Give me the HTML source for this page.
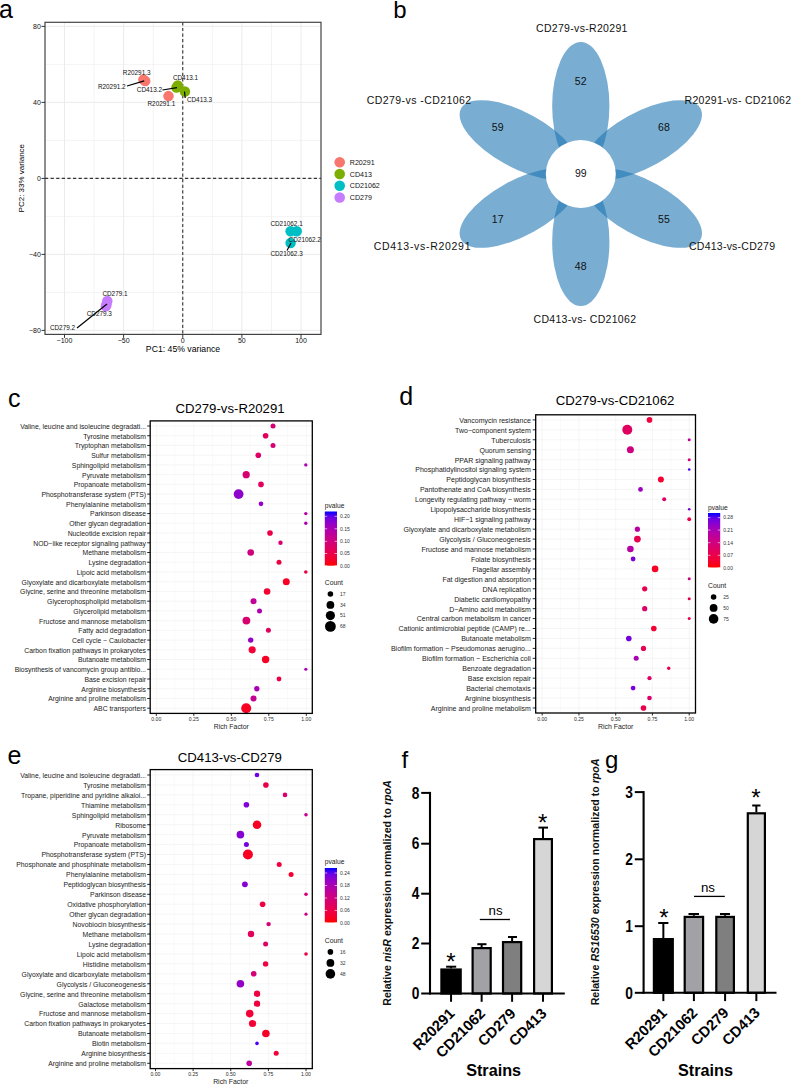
<!DOCTYPE html><html><head><meta charset="utf-8"><style>html,body{margin:0;padding:0;background:#fff;} svg{display:block;} text{font-family:"Liberation Sans", sans-serif;}</style></head><body>
<svg width="792" height="1084" viewBox="0 0 792 1084">
<rect width="792" height="1084" fill="#fff"/>
<text x="-1.00" y="18.20" font-size="25" text-anchor="start" font-weight="normal" fill="#000" >a</text>
<line x1="64.50" y1="22.3" x2="64.50" y2="334.4" stroke="#ebebeb" stroke-width="1.0"/>
<line x1="94.06" y1="22.3" x2="94.06" y2="334.4" stroke="#ebebeb" stroke-width="0.6"/>
<line x1="123.62" y1="22.3" x2="123.62" y2="334.4" stroke="#ebebeb" stroke-width="1.0"/>
<line x1="153.19" y1="22.3" x2="153.19" y2="334.4" stroke="#ebebeb" stroke-width="0.6"/>
<line x1="182.75" y1="22.3" x2="182.75" y2="334.4" stroke="#ebebeb" stroke-width="1.0"/>
<line x1="212.31" y1="22.3" x2="212.31" y2="334.4" stroke="#ebebeb" stroke-width="0.6"/>
<line x1="241.88" y1="22.3" x2="241.88" y2="334.4" stroke="#ebebeb" stroke-width="1.0"/>
<line x1="271.44" y1="22.3" x2="271.44" y2="334.4" stroke="#ebebeb" stroke-width="0.6"/>
<line x1="301.00" y1="22.3" x2="301.00" y2="334.4" stroke="#ebebeb" stroke-width="1.0"/>
<line x1="45.0" y1="330.40" x2="321.0" y2="330.40" stroke="#ebebeb" stroke-width="1.0"/>
<line x1="45.0" y1="292.40" x2="321.0" y2="292.40" stroke="#ebebeb" stroke-width="0.6"/>
<line x1="45.0" y1="254.40" x2="321.0" y2="254.40" stroke="#ebebeb" stroke-width="1.0"/>
<line x1="45.0" y1="216.40" x2="321.0" y2="216.40" stroke="#ebebeb" stroke-width="0.6"/>
<line x1="45.0" y1="178.40" x2="321.0" y2="178.40" stroke="#ebebeb" stroke-width="1.0"/>
<line x1="45.0" y1="140.40" x2="321.0" y2="140.40" stroke="#ebebeb" stroke-width="0.6"/>
<line x1="45.0" y1="102.40" x2="321.0" y2="102.40" stroke="#ebebeb" stroke-width="1.0"/>
<line x1="45.0" y1="64.40" x2="321.0" y2="64.40" stroke="#ebebeb" stroke-width="0.6"/>
<line x1="45.0" y1="26.40" x2="321.0" y2="26.40" stroke="#ebebeb" stroke-width="1.0"/>
<line x1="182.75" y1="22.3" x2="182.75" y2="334.4" stroke="#333" stroke-width="1.1" stroke-dasharray="3.2,2.4"/>
<line x1="45.0" y1="178.40" x2="321.0" y2="178.40" stroke="#333" stroke-width="1.1" stroke-dasharray="3.2,2.4"/>
<rect x="45.0" y="22.3" width="276.0" height="312.09999999999997" fill="none" stroke="#444" stroke-width="1.2"/>
<line x1="41.5" y1="26.40" x2="45.0" y2="26.40" stroke="#333" stroke-width="1"/>
<text x="40.80" y="29.10" font-size="7.0" text-anchor="end" font-weight="normal" fill="#111" >80</text>
<line x1="41.5" y1="102.40" x2="45.0" y2="102.40" stroke="#333" stroke-width="1"/>
<text x="40.80" y="105.10" font-size="7.0" text-anchor="end" font-weight="normal" fill="#111" >40</text>
<line x1="41.5" y1="178.40" x2="45.0" y2="178.40" stroke="#333" stroke-width="1"/>
<text x="40.80" y="181.10" font-size="7.0" text-anchor="end" font-weight="normal" fill="#111" >0</text>
<line x1="41.5" y1="254.40" x2="45.0" y2="254.40" stroke="#333" stroke-width="1"/>
<text x="40.80" y="257.10" font-size="7.0" text-anchor="end" font-weight="normal" fill="#111" >−40</text>
<line x1="41.5" y1="330.40" x2="45.0" y2="330.40" stroke="#333" stroke-width="1"/>
<text x="40.80" y="333.10" font-size="7.0" text-anchor="end" font-weight="normal" fill="#111" >−80</text>
<line x1="64.50" y1="334.4" x2="64.50" y2="337.9" stroke="#333" stroke-width="1"/>
<text x="64.50" y="342.80" font-size="7.0" text-anchor="middle" font-weight="normal" fill="#111" >−100</text>
<line x1="123.62" y1="334.4" x2="123.62" y2="337.9" stroke="#333" stroke-width="1"/>
<text x="123.62" y="342.80" font-size="7.0" text-anchor="middle" font-weight="normal" fill="#111" >−50</text>
<line x1="182.75" y1="334.4" x2="182.75" y2="337.9" stroke="#333" stroke-width="1"/>
<text x="182.75" y="342.80" font-size="7.0" text-anchor="middle" font-weight="normal" fill="#111" >0</text>
<line x1="241.88" y1="334.4" x2="241.88" y2="337.9" stroke="#333" stroke-width="1"/>
<text x="241.88" y="342.80" font-size="7.0" text-anchor="middle" font-weight="normal" fill="#111" >50</text>
<line x1="301.00" y1="334.4" x2="301.00" y2="337.9" stroke="#333" stroke-width="1"/>
<text x="301.00" y="342.80" font-size="7.0" text-anchor="middle" font-weight="normal" fill="#111" >100</text>
<text x="183.00" y="352.30" font-size="8.7" text-anchor="middle" font-weight="normal" fill="#000" textLength="74.3" lengthAdjust="spacingAndGlyphs">PC1: 45% variance</text>
<text x="0" y="0" font-size="8.0" text-anchor="middle" transform="translate(24.0,178.2) rotate(-90)">PC2: 33% variance</text>
<circle cx="143.4" cy="79.6" r="5.25" fill="#F8766D"/>
<circle cx="145.2" cy="81.0" r="5.25" fill="#F8766D"/>
<circle cx="168.5" cy="96.1" r="5.25" fill="#F8766D"/>
<circle cx="177.8" cy="85.5" r="5.25" fill="#7CAE00"/>
<circle cx="176.5" cy="87.5" r="5.25" fill="#7CAE00"/>
<circle cx="184.9" cy="91.5" r="5.25" fill="#7CAE00"/>
<circle cx="290.6" cy="231.3" r="5.25" fill="#00BFC4"/>
<circle cx="296.7" cy="231.3" r="5.25" fill="#00BFC4"/>
<circle cx="290.6" cy="243.0" r="5.25" fill="#00BFC4"/>
<circle cx="107.3" cy="301.0" r="5.25" fill="#C77CFF"/>
<circle cx="105.9" cy="306.2" r="5.25" fill="#C77CFF"/>
<circle cx="106.5" cy="304.5" r="5.25" fill="#C77CFF"/>
<line x1="127" y1="86" x2="144.2" y2="80.9" stroke="#000" stroke-width="1.2"/>
<line x1="162.5" y1="90" x2="177" y2="87.6" stroke="#000" stroke-width="1.2"/>
<line x1="184.5" y1="91.5" x2="185.2" y2="98" stroke="#000" stroke-width="1.2"/>
<line x1="77" y1="328" x2="107" y2="304" stroke="#000" stroke-width="1.2"/>
<line x1="287" y1="250.5" x2="291" y2="243" stroke="#000" stroke-width="1.2"/>
<text x="122.80" y="74.60" font-size="6.4" text-anchor="start" font-weight="normal" fill="#111" >R20291.3</text>
<text x="97.90" y="88.60" font-size="6.4" text-anchor="start" font-weight="normal" fill="#111" >R20291.2</text>
<text x="136.80" y="92.30" font-size="6.4" text-anchor="start" font-weight="normal" fill="#111" >CD413.2</text>
<text x="172.90" y="79.90" font-size="6.4" text-anchor="start" font-weight="normal" fill="#111" >CD413.1</text>
<text x="186.90" y="102.20" font-size="6.4" text-anchor="start" font-weight="normal" fill="#111" >CD413.3</text>
<text x="147.50" y="106.30" font-size="6.4" text-anchor="start" font-weight="normal" fill="#111" >R20291.1</text>
<text x="270.40" y="225.50" font-size="6.4" text-anchor="start" font-weight="normal" fill="#111" >CD21062.1</text>
<text x="288.60" y="241.70" font-size="6.4" text-anchor="start" font-weight="normal" fill="#111" >CD21062.2</text>
<text x="270.40" y="256.20" font-size="6.4" text-anchor="start" font-weight="normal" fill="#111" >CD21062.3</text>
<text x="102.40" y="296.00" font-size="6.4" text-anchor="start" font-weight="normal" fill="#111" >CD279.1</text>
<text x="86.70" y="316.00" font-size="6.4" text-anchor="start" font-weight="normal" fill="#111" >CD279.3</text>
<text x="49.90" y="330.30" font-size="6.4" text-anchor="start" font-weight="normal" fill="#111" >CD279.2</text>
<circle cx="339.7" cy="162.30" r="5.3" fill="#F8766D"/>
<text x="349.80" y="164.80" font-size="7.1" text-anchor="start" font-weight="normal" fill="#111" >R20291</text>
<circle cx="339.7" cy="174.05" r="5.3" fill="#7CAE00"/>
<text x="349.80" y="176.55" font-size="7.1" text-anchor="start" font-weight="normal" fill="#111" >CD413</text>
<circle cx="339.7" cy="185.80" r="5.3" fill="#00BFC4"/>
<text x="349.80" y="188.30" font-size="7.1" text-anchor="start" font-weight="normal" fill="#111" >CD21062</text>
<circle cx="339.7" cy="197.55" r="5.3" fill="#C77CFF"/>
<text x="349.80" y="200.05" font-size="7.1" text-anchor="start" font-weight="normal" fill="#111" >CD279</text>
<text x="393.30" y="17.80" font-size="24" text-anchor="start" font-weight="normal" fill="#000" >b</text>
<g transform="translate(580.8,174.0) scale(1.045,1)">
<ellipse cx="0" cy="-68.0" rx="27.4" ry="64.0" fill="#1f77b4" fill-opacity="0.6" transform="rotate(0)"/>
<ellipse cx="0" cy="-68.0" rx="27.4" ry="64.0" fill="#1f77b4" fill-opacity="0.6" transform="rotate(60)"/>
<ellipse cx="0" cy="-68.0" rx="27.4" ry="64.0" fill="#1f77b4" fill-opacity="0.6" transform="rotate(120)"/>
<ellipse cx="0" cy="-68.0" rx="27.4" ry="64.0" fill="#1f77b4" fill-opacity="0.6" transform="rotate(180)"/>
<ellipse cx="0" cy="-68.0" rx="27.4" ry="64.0" fill="#1f77b4" fill-opacity="0.6" transform="rotate(240)"/>
<ellipse cx="0" cy="-68.0" rx="27.4" ry="64.0" fill="#1f77b4" fill-opacity="0.6" transform="rotate(-60)"/>
</g>
<ellipse cx="580.8" cy="174.0" rx="35" ry="33.9" fill="#fff"/>
<text x="580.70" y="84.90" font-size="10.5" text-anchor="middle" font-weight="normal" fill="#111" textLength="11.8" lengthAdjust="spacing">52</text>
<text x="497.60" y="131.20" font-size="10.5" text-anchor="middle" font-weight="normal" fill="#111" textLength="11.8" lengthAdjust="spacing">59</text>
<text x="664.00" y="131.20" font-size="10.5" text-anchor="middle" font-weight="normal" fill="#111" textLength="11.8" lengthAdjust="spacing">68</text>
<text x="497.60" y="223.20" font-size="10.5" text-anchor="middle" font-weight="normal" fill="#111" textLength="11.8" lengthAdjust="spacing">17</text>
<text x="664.00" y="223.20" font-size="10.5" text-anchor="middle" font-weight="normal" fill="#111" textLength="11.8" lengthAdjust="spacing">55</text>
<text x="580.70" y="270.20" font-size="10.5" text-anchor="middle" font-weight="normal" fill="#111" textLength="11.8" lengthAdjust="spacing">48</text>
<text x="580.80" y="177.10" font-size="10.5" text-anchor="middle" font-weight="normal" fill="#111" textLength="11.8" lengthAdjust="spacing">99</text>
<text x="536.00" y="31.50" font-size="10.5" text-anchor="start" font-weight="normal" fill="#111" textLength="91.4" lengthAdjust="spacing">CD279-vs-R20291</text>
<text x="366.70" y="104.30" font-size="10.5" text-anchor="start" font-weight="normal" fill="#111" textLength="104.5" lengthAdjust="spacing">CD279-vs -CD21062</text>
<text x="684.50" y="104.30" font-size="10.5" text-anchor="start" font-weight="normal" fill="#111" textLength="106.5" lengthAdjust="spacing">R20291-vs- CD21062</text>
<text x="373.70" y="249.90" font-size="10.5" text-anchor="start" font-weight="normal" fill="#111" textLength="96.8" lengthAdjust="spacing">CD413-vs-R20291</text>
<text x="689.00" y="249.80" font-size="10.5" text-anchor="start" font-weight="normal" fill="#111" textLength="86.0" lengthAdjust="spacing">CD413-vs-CD279</text>
<text x="533.50" y="322.80" font-size="10.5" text-anchor="start" font-weight="normal" fill="#111" textLength="102.5" lengthAdjust="spacing">CD413-vs- CD21062</text>
<text x="8.00" y="407.10" font-size="25" text-anchor="start" font-weight="normal" fill="#000" >c</text>
<text x="230.00" y="413.30" font-size="13.2" text-anchor="middle" font-weight="normal" fill="#000" >CD279-vs-R20291</text>
<line x1="156.30" y1="420.9" x2="156.30" y2="713.4" stroke="#f0f0f0" stroke-width="0.6"/>
<line x1="193.80" y1="420.9" x2="193.80" y2="713.4" stroke="#f0f0f0" stroke-width="0.6"/>
<line x1="231.30" y1="420.9" x2="231.30" y2="713.4" stroke="#f0f0f0" stroke-width="0.6"/>
<line x1="268.80" y1="420.9" x2="268.80" y2="713.4" stroke="#f0f0f0" stroke-width="0.6"/>
<line x1="306.30" y1="420.9" x2="306.30" y2="713.4" stroke="#f0f0f0" stroke-width="0.6"/>
<line x1="175.05" y1="420.9" x2="175.05" y2="713.4" stroke="#f4f4f4" stroke-width="0.5"/>
<line x1="212.55" y1="420.9" x2="212.55" y2="713.4" stroke="#f4f4f4" stroke-width="0.5"/>
<line x1="250.05" y1="420.9" x2="250.05" y2="713.4" stroke="#f4f4f4" stroke-width="0.5"/>
<line x1="287.55" y1="420.9" x2="287.55" y2="713.4" stroke="#f4f4f4" stroke-width="0.5"/>
<line x1="150.2" y1="426.00" x2="312.3" y2="426.00" stroke="#f0f0f0" stroke-width="0.6"/>
<line x1="150.2" y1="435.73" x2="312.3" y2="435.73" stroke="#f0f0f0" stroke-width="0.6"/>
<line x1="150.2" y1="445.46" x2="312.3" y2="445.46" stroke="#f0f0f0" stroke-width="0.6"/>
<line x1="150.2" y1="455.19" x2="312.3" y2="455.19" stroke="#f0f0f0" stroke-width="0.6"/>
<line x1="150.2" y1="464.92" x2="312.3" y2="464.92" stroke="#f0f0f0" stroke-width="0.6"/>
<line x1="150.2" y1="474.65" x2="312.3" y2="474.65" stroke="#f0f0f0" stroke-width="0.6"/>
<line x1="150.2" y1="484.39" x2="312.3" y2="484.39" stroke="#f0f0f0" stroke-width="0.6"/>
<line x1="150.2" y1="494.12" x2="312.3" y2="494.12" stroke="#f0f0f0" stroke-width="0.6"/>
<line x1="150.2" y1="503.85" x2="312.3" y2="503.85" stroke="#f0f0f0" stroke-width="0.6"/>
<line x1="150.2" y1="513.58" x2="312.3" y2="513.58" stroke="#f0f0f0" stroke-width="0.6"/>
<line x1="150.2" y1="523.31" x2="312.3" y2="523.31" stroke="#f0f0f0" stroke-width="0.6"/>
<line x1="150.2" y1="533.04" x2="312.3" y2="533.04" stroke="#f0f0f0" stroke-width="0.6"/>
<line x1="150.2" y1="542.77" x2="312.3" y2="542.77" stroke="#f0f0f0" stroke-width="0.6"/>
<line x1="150.2" y1="552.50" x2="312.3" y2="552.50" stroke="#f0f0f0" stroke-width="0.6"/>
<line x1="150.2" y1="562.23" x2="312.3" y2="562.23" stroke="#f0f0f0" stroke-width="0.6"/>
<line x1="150.2" y1="571.97" x2="312.3" y2="571.97" stroke="#f0f0f0" stroke-width="0.6"/>
<line x1="150.2" y1="581.70" x2="312.3" y2="581.70" stroke="#f0f0f0" stroke-width="0.6"/>
<line x1="150.2" y1="591.43" x2="312.3" y2="591.43" stroke="#f0f0f0" stroke-width="0.6"/>
<line x1="150.2" y1="601.16" x2="312.3" y2="601.16" stroke="#f0f0f0" stroke-width="0.6"/>
<line x1="150.2" y1="610.89" x2="312.3" y2="610.89" stroke="#f0f0f0" stroke-width="0.6"/>
<line x1="150.2" y1="620.62" x2="312.3" y2="620.62" stroke="#f0f0f0" stroke-width="0.6"/>
<line x1="150.2" y1="630.35" x2="312.3" y2="630.35" stroke="#f0f0f0" stroke-width="0.6"/>
<line x1="150.2" y1="640.08" x2="312.3" y2="640.08" stroke="#f0f0f0" stroke-width="0.6"/>
<line x1="150.2" y1="649.81" x2="312.3" y2="649.81" stroke="#f0f0f0" stroke-width="0.6"/>
<line x1="150.2" y1="659.54" x2="312.3" y2="659.54" stroke="#f0f0f0" stroke-width="0.6"/>
<line x1="150.2" y1="669.27" x2="312.3" y2="669.27" stroke="#f0f0f0" stroke-width="0.6"/>
<line x1="150.2" y1="679.01" x2="312.3" y2="679.01" stroke="#f0f0f0" stroke-width="0.6"/>
<line x1="150.2" y1="688.74" x2="312.3" y2="688.74" stroke="#f0f0f0" stroke-width="0.6"/>
<line x1="150.2" y1="698.47" x2="312.3" y2="698.47" stroke="#f0f0f0" stroke-width="0.6"/>
<line x1="150.2" y1="708.20" x2="312.3" y2="708.20" stroke="#f0f0f0" stroke-width="0.6"/>
<circle cx="273" cy="426.00" r="2.5" fill="#d40076"/>
<line x1="147.2" y1="426.00" x2="150.2" y2="426.00" stroke="#111" stroke-width="0.9"/>
<text x="146.00" y="428.90" font-size="6.85" text-anchor="end" font-weight="normal" fill="#1a1a1a" >Valine, leucine and isoleucine degradati...</text>
<circle cx="265.6" cy="435.73" r="2.8" fill="#e3005b"/>
<line x1="147.2" y1="435.73" x2="150.2" y2="435.73" stroke="#111" stroke-width="0.9"/>
<text x="146.00" y="438.63" font-size="6.85" text-anchor="end" font-weight="normal" fill="#1a1a1a" >Tyrosine metabolism</text>
<circle cx="273" cy="445.46" r="2.5" fill="#d40076"/>
<line x1="147.2" y1="445.46" x2="150.2" y2="445.46" stroke="#111" stroke-width="0.9"/>
<text x="146.00" y="448.36" font-size="6.85" text-anchor="end" font-weight="normal" fill="#1a1a1a" >Tryptophan metabolism</text>
<circle cx="258.3" cy="455.19" r="2.8" fill="#de0064"/>
<line x1="147.2" y1="455.19" x2="150.2" y2="455.19" stroke="#111" stroke-width="0.9"/>
<text x="146.00" y="458.09" font-size="6.85" text-anchor="end" font-weight="normal" fill="#1a1a1a" >Sulfur metabolism</text>
<circle cx="305.8" cy="464.92" r="1.7" fill="#ae00ad"/>
<line x1="147.2" y1="464.92" x2="150.2" y2="464.92" stroke="#111" stroke-width="0.9"/>
<text x="146.00" y="467.82" font-size="6.85" text-anchor="end" font-weight="normal" fill="#1a1a1a" >Sphingolipid metabolism</text>
<circle cx="246.2" cy="474.65" r="3.6" fill="#d8006f"/>
<line x1="147.2" y1="474.65" x2="150.2" y2="474.65" stroke="#111" stroke-width="0.9"/>
<text x="146.00" y="477.55" font-size="6.85" text-anchor="end" font-weight="normal" fill="#1a1a1a" >Pyruvate metabolism</text>
<circle cx="261" cy="484.39" r="2.8" fill="#e40059"/>
<line x1="147.2" y1="484.39" x2="150.2" y2="484.39" stroke="#111" stroke-width="0.9"/>
<text x="146.00" y="487.29" font-size="6.85" text-anchor="end" font-weight="normal" fill="#1a1a1a" >Propanoate metabolism</text>
<circle cx="238.6" cy="494.12" r="4.9" fill="#8d00ce"/>
<line x1="147.2" y1="494.12" x2="150.2" y2="494.12" stroke="#111" stroke-width="0.9"/>
<text x="146.00" y="497.02" font-size="6.85" text-anchor="end" font-weight="normal" fill="#1a1a1a" >Phosphotransferase system (PTS)</text>
<circle cx="261" cy="503.85" r="2.3" fill="#9500c7"/>
<line x1="147.2" y1="503.85" x2="150.2" y2="503.85" stroke="#111" stroke-width="0.9"/>
<text x="146.00" y="506.75" font-size="6.85" text-anchor="end" font-weight="normal" fill="#1a1a1a" >Phenylalanine metabolism</text>
<circle cx="305.8" cy="513.58" r="1.7" fill="#b600a4"/>
<line x1="147.2" y1="513.58" x2="150.2" y2="513.58" stroke="#111" stroke-width="0.9"/>
<text x="146.00" y="516.48" font-size="6.85" text-anchor="end" font-weight="normal" fill="#1a1a1a" >Parkinson disease</text>
<circle cx="305.8" cy="523.31" r="1.7" fill="#ae00ad"/>
<line x1="147.2" y1="523.31" x2="150.2" y2="523.31" stroke="#111" stroke-width="0.9"/>
<text x="146.00" y="526.21" font-size="6.85" text-anchor="end" font-weight="normal" fill="#1a1a1a" >Other glycan degradation</text>
<circle cx="270" cy="533.04" r="2.8" fill="#eb0048"/>
<line x1="147.2" y1="533.04" x2="150.2" y2="533.04" stroke="#111" stroke-width="0.9"/>
<text x="146.00" y="535.94" font-size="6.85" text-anchor="end" font-weight="normal" fill="#1a1a1a" >Nucleotide excision repair</text>
<circle cx="280.5" cy="542.77" r="2.2" fill="#d60074"/>
<line x1="147.2" y1="542.77" x2="150.2" y2="542.77" stroke="#111" stroke-width="0.9"/>
<text x="146.00" y="545.67" font-size="6.85" text-anchor="end" font-weight="normal" fill="#1a1a1a" >NOD−like receptor signaling pathway</text>
<circle cx="250.7" cy="552.50" r="3.3" fill="#cf007f"/>
<line x1="147.2" y1="552.50" x2="150.2" y2="552.50" stroke="#111" stroke-width="0.9"/>
<text x="146.00" y="555.40" font-size="6.85" text-anchor="end" font-weight="normal" fill="#1a1a1a" >Methane metabolism</text>
<circle cx="279" cy="562.23" r="2.5" fill="#ee0041"/>
<line x1="147.2" y1="562.23" x2="150.2" y2="562.23" stroke="#111" stroke-width="0.9"/>
<text x="146.00" y="565.13" font-size="6.85" text-anchor="end" font-weight="normal" fill="#1a1a1a" >Lysine degradation</text>
<circle cx="305.8" cy="571.97" r="1.8" fill="#ec0046"/>
<line x1="147.2" y1="571.97" x2="150.2" y2="571.97" stroke="#111" stroke-width="0.9"/>
<text x="146.00" y="574.87" font-size="6.85" text-anchor="end" font-weight="normal" fill="#1a1a1a" >Lipoic acid metabolism</text>
<circle cx="286.3" cy="581.70" r="3.5" fill="#f80024"/>
<line x1="147.2" y1="581.70" x2="150.2" y2="581.70" stroke="#111" stroke-width="0.9"/>
<text x="146.00" y="584.60" font-size="6.85" text-anchor="end" font-weight="normal" fill="#1a1a1a" >Glyoxylate and dicarboxylate metabolism</text>
<circle cx="267.1" cy="591.43" r="3.3" fill="#f40032"/>
<line x1="147.2" y1="591.43" x2="150.2" y2="591.43" stroke="#111" stroke-width="0.9"/>
<text x="146.00" y="594.33" font-size="6.85" text-anchor="end" font-weight="normal" fill="#1a1a1a" >Glycine, serine and threonine metabolism</text>
<circle cx="253.5" cy="601.16" r="3.0" fill="#bf0099"/>
<line x1="147.2" y1="601.16" x2="150.2" y2="601.16" stroke="#111" stroke-width="0.9"/>
<text x="146.00" y="604.06" font-size="6.85" text-anchor="end" font-weight="normal" fill="#1a1a1a" >Glycerophospholipid metabolism</text>
<circle cx="259.5" cy="610.89" r="2.5" fill="#ae00ad"/>
<line x1="147.2" y1="610.89" x2="150.2" y2="610.89" stroke="#111" stroke-width="0.9"/>
<text x="146.00" y="613.79" font-size="6.85" text-anchor="end" font-weight="normal" fill="#1a1a1a" >Glycerolipid metabolism</text>
<circle cx="246.4" cy="620.62" r="3.9" fill="#d8006f"/>
<line x1="147.2" y1="620.62" x2="150.2" y2="620.62" stroke="#111" stroke-width="0.9"/>
<text x="146.00" y="623.52" font-size="6.85" text-anchor="end" font-weight="normal" fill="#1a1a1a" >Fructose and mannose metabolism</text>
<circle cx="268.4" cy="630.35" r="2.5" fill="#e00060"/>
<line x1="147.2" y1="630.35" x2="150.2" y2="630.35" stroke="#111" stroke-width="0.9"/>
<text x="146.00" y="633.25" font-size="6.85" text-anchor="end" font-weight="normal" fill="#1a1a1a" >Fatty acid degradation</text>
<circle cx="250.7" cy="640.08" r="2.7" fill="#9500c7"/>
<line x1="147.2" y1="640.08" x2="150.2" y2="640.08" stroke="#111" stroke-width="0.9"/>
<text x="146.00" y="642.98" font-size="6.85" text-anchor="end" font-weight="normal" fill="#1a1a1a" >Cell cycle − Caulobacter</text>
<circle cx="252.2" cy="649.81" r="3.6" fill="#f20037"/>
<line x1="147.2" y1="649.81" x2="150.2" y2="649.81" stroke="#111" stroke-width="0.9"/>
<text x="146.00" y="652.71" font-size="6.85" text-anchor="end" font-weight="normal" fill="#1a1a1a" >Carbon fixation pathways in prokaryotes</text>
<circle cx="265.6" cy="659.54" r="3.7" fill="#f80024"/>
<line x1="147.2" y1="659.54" x2="150.2" y2="659.54" stroke="#111" stroke-width="0.9"/>
<text x="146.00" y="662.44" font-size="6.85" text-anchor="end" font-weight="normal" fill="#1a1a1a" >Butanoate metabolism</text>
<circle cx="305.8" cy="669.27" r="1.6" fill="#a800b4"/>
<line x1="147.2" y1="669.27" x2="150.2" y2="669.27" stroke="#111" stroke-width="0.9"/>
<text x="146.00" y="672.17" font-size="6.85" text-anchor="end" font-weight="normal" fill="#1a1a1a" >Biosynthesis of vancomycin group antibio...</text>
<circle cx="279" cy="679.01" r="2.4" fill="#eb0048"/>
<line x1="147.2" y1="679.01" x2="150.2" y2="679.01" stroke="#111" stroke-width="0.9"/>
<text x="146.00" y="681.91" font-size="6.85" text-anchor="end" font-weight="normal" fill="#1a1a1a" >Base excision repair</text>
<circle cx="256.8" cy="688.74" r="2.7" fill="#a800b4"/>
<line x1="147.2" y1="688.74" x2="150.2" y2="688.74" stroke="#111" stroke-width="0.9"/>
<text x="146.00" y="691.64" font-size="6.85" text-anchor="end" font-weight="normal" fill="#1a1a1a" >Arginine biosynthesis</text>
<circle cx="253.5" cy="698.47" r="3.0" fill="#c40092"/>
<line x1="147.2" y1="698.47" x2="150.2" y2="698.47" stroke="#111" stroke-width="0.9"/>
<text x="146.00" y="701.37" font-size="6.85" text-anchor="end" font-weight="normal" fill="#1a1a1a" >Arginine and proline metabolism</text>
<circle cx="246.2" cy="708.20" r="5.0" fill="#f80024"/>
<line x1="147.2" y1="708.20" x2="150.2" y2="708.20" stroke="#111" stroke-width="0.9"/>
<text x="146.00" y="711.10" font-size="6.85" text-anchor="end" font-weight="normal" fill="#1a1a1a" >ABC transporters</text>
<rect x="150.2" y="420.9" width="162.10000000000002" height="292.5" fill="none" stroke="#000" stroke-width="1.3"/>
<line x1="156.30" y1="713.4" x2="156.30" y2="715.9" stroke="#111" stroke-width="0.9"/>
<text x="156.30" y="721.10" font-size="5.1" text-anchor="middle" font-weight="normal" fill="#2a2a2a" >0.00</text>
<line x1="193.80" y1="713.4" x2="193.80" y2="715.9" stroke="#111" stroke-width="0.9"/>
<text x="193.80" y="721.10" font-size="5.1" text-anchor="middle" font-weight="normal" fill="#2a2a2a" >0.25</text>
<line x1="231.30" y1="713.4" x2="231.30" y2="715.9" stroke="#111" stroke-width="0.9"/>
<text x="231.30" y="721.10" font-size="5.1" text-anchor="middle" font-weight="normal" fill="#2a2a2a" >0.50</text>
<line x1="268.80" y1="713.4" x2="268.80" y2="715.9" stroke="#111" stroke-width="0.9"/>
<text x="268.80" y="721.10" font-size="5.1" text-anchor="middle" font-weight="normal" fill="#2a2a2a" >0.75</text>
<line x1="306.30" y1="713.4" x2="306.30" y2="715.9" stroke="#111" stroke-width="0.9"/>
<text x="306.30" y="721.10" font-size="5.1" text-anchor="middle" font-weight="normal" fill="#2a2a2a" >1.00</text>
<text x="231.30" y="728.60" font-size="6.9" text-anchor="middle" font-weight="normal" fill="#222" >Rich Factor</text>
<text x="324.80" y="508.30" font-size="6.7" text-anchor="start" font-weight="normal" fill="#222" >pvalue</text>
<defs><linearGradient id="gc" x1="0" y1="1" x2="0" y2="0"><stop offset="0.00" stop-color="#ff0000"/><stop offset="0.10" stop-color="#f6002a"/><stop offset="0.20" stop-color="#ed0044"/><stop offset="0.30" stop-color="#e3005b"/><stop offset="0.40" stop-color="#d70072"/><stop offset="0.50" stop-color="#ca0088"/><stop offset="0.60" stop-color="#ba009f"/><stop offset="0.70" stop-color="#a600b7"/><stop offset="0.80" stop-color="#8d00ce"/><stop offset="0.90" stop-color="#6800e7"/><stop offset="1.00" stop-color="#0000ff"/></linearGradient></defs>
<rect x="324.8" y="511.5" width="12.2" height="54.20" fill="url(#gc)"/>
<line x1="324.8" y1="516.3" x2="327.2" y2="516.3" stroke="#fff" stroke-width="0.6"/>
<line x1="334.6" y1="516.3" x2="337.0" y2="516.3" stroke="#fff" stroke-width="0.6"/>
<text x="340.00" y="518.10" font-size="5.0" text-anchor="start" font-weight="normal" fill="#333" >0.20</text>
<line x1="324.8" y1="528.8" x2="327.2" y2="528.8" stroke="#fff" stroke-width="0.6"/>
<line x1="334.6" y1="528.8" x2="337.0" y2="528.8" stroke="#fff" stroke-width="0.6"/>
<text x="340.00" y="530.60" font-size="5.0" text-anchor="start" font-weight="normal" fill="#333" >0.15</text>
<line x1="324.8" y1="541.3" x2="327.2" y2="541.3" stroke="#fff" stroke-width="0.6"/>
<line x1="334.6" y1="541.3" x2="337.0" y2="541.3" stroke="#fff" stroke-width="0.6"/>
<text x="340.00" y="543.10" font-size="5.0" text-anchor="start" font-weight="normal" fill="#333" >0.10</text>
<line x1="324.8" y1="553.5" x2="327.2" y2="553.5" stroke="#fff" stroke-width="0.6"/>
<line x1="334.6" y1="553.5" x2="337.0" y2="553.5" stroke="#fff" stroke-width="0.6"/>
<text x="340.00" y="555.30" font-size="5.0" text-anchor="start" font-weight="normal" fill="#333" >0.05</text>
<line x1="324.8" y1="565.7" x2="327.2" y2="565.7" stroke="#fff" stroke-width="0.6"/>
<line x1="334.6" y1="565.7" x2="337.0" y2="565.7" stroke="#fff" stroke-width="0.6"/>
<text x="340.00" y="567.50" font-size="5.0" text-anchor="start" font-weight="normal" fill="#333" >0.00</text>
<text x="324.80" y="585.10" font-size="6.8" text-anchor="start" font-weight="normal" fill="#222" >Count</text>
<circle cx="330.40000000000003" cy="594.0" r="2.8" fill="#000"/>
<text x="340.00" y="595.80" font-size="5.0" text-anchor="start" font-weight="normal" fill="#333" >17</text>
<circle cx="330.40000000000003" cy="604.9" r="3.9" fill="#000"/>
<text x="340.00" y="606.70" font-size="5.0" text-anchor="start" font-weight="normal" fill="#333" >34</text>
<circle cx="330.40000000000003" cy="615.6" r="4.6" fill="#000"/>
<text x="340.00" y="617.40" font-size="5.0" text-anchor="start" font-weight="normal" fill="#333" >51</text>
<circle cx="330.40000000000003" cy="626.4" r="5.4" fill="#000"/>
<text x="340.00" y="628.20" font-size="5.0" text-anchor="start" font-weight="normal" fill="#333" >68</text>
<text x="399.30" y="405.30" font-size="25" text-anchor="start" font-weight="normal" fill="#000" >d</text>
<text x="615.00" y="405.00" font-size="13.2" text-anchor="middle" font-weight="normal" fill="#000" >CD279-vs-CD21062</text>
<line x1="542.20" y1="414.8" x2="542.20" y2="713.0" stroke="#f0f0f0" stroke-width="0.6"/>
<line x1="578.95" y1="414.8" x2="578.95" y2="713.0" stroke="#f0f0f0" stroke-width="0.6"/>
<line x1="615.70" y1="414.8" x2="615.70" y2="713.0" stroke="#f0f0f0" stroke-width="0.6"/>
<line x1="652.45" y1="414.8" x2="652.45" y2="713.0" stroke="#f0f0f0" stroke-width="0.6"/>
<line x1="689.20" y1="414.8" x2="689.20" y2="713.0" stroke="#f0f0f0" stroke-width="0.6"/>
<line x1="560.58" y1="414.8" x2="560.58" y2="713.0" stroke="#f4f4f4" stroke-width="0.5"/>
<line x1="597.33" y1="414.8" x2="597.33" y2="713.0" stroke="#f4f4f4" stroke-width="0.5"/>
<line x1="634.08" y1="414.8" x2="634.08" y2="713.0" stroke="#f4f4f4" stroke-width="0.5"/>
<line x1="670.83" y1="414.8" x2="670.83" y2="713.0" stroke="#f4f4f4" stroke-width="0.5"/>
<line x1="535.7" y1="419.90" x2="695.5" y2="419.90" stroke="#f0f0f0" stroke-width="0.6"/>
<line x1="535.7" y1="429.83" x2="695.5" y2="429.83" stroke="#f0f0f0" stroke-width="0.6"/>
<line x1="535.7" y1="439.77" x2="695.5" y2="439.77" stroke="#f0f0f0" stroke-width="0.6"/>
<line x1="535.7" y1="449.70" x2="695.5" y2="449.70" stroke="#f0f0f0" stroke-width="0.6"/>
<line x1="535.7" y1="459.64" x2="695.5" y2="459.64" stroke="#f0f0f0" stroke-width="0.6"/>
<line x1="535.7" y1="469.57" x2="695.5" y2="469.57" stroke="#f0f0f0" stroke-width="0.6"/>
<line x1="535.7" y1="479.50" x2="695.5" y2="479.50" stroke="#f0f0f0" stroke-width="0.6"/>
<line x1="535.7" y1="489.44" x2="695.5" y2="489.44" stroke="#f0f0f0" stroke-width="0.6"/>
<line x1="535.7" y1="499.37" x2="695.5" y2="499.37" stroke="#f0f0f0" stroke-width="0.6"/>
<line x1="535.7" y1="509.31" x2="695.5" y2="509.31" stroke="#f0f0f0" stroke-width="0.6"/>
<line x1="535.7" y1="519.24" x2="695.5" y2="519.24" stroke="#f0f0f0" stroke-width="0.6"/>
<line x1="535.7" y1="529.17" x2="695.5" y2="529.17" stroke="#f0f0f0" stroke-width="0.6"/>
<line x1="535.7" y1="539.11" x2="695.5" y2="539.11" stroke="#f0f0f0" stroke-width="0.6"/>
<line x1="535.7" y1="549.04" x2="695.5" y2="549.04" stroke="#f0f0f0" stroke-width="0.6"/>
<line x1="535.7" y1="558.98" x2="695.5" y2="558.98" stroke="#f0f0f0" stroke-width="0.6"/>
<line x1="535.7" y1="568.91" x2="695.5" y2="568.91" stroke="#f0f0f0" stroke-width="0.6"/>
<line x1="535.7" y1="578.84" x2="695.5" y2="578.84" stroke="#f0f0f0" stroke-width="0.6"/>
<line x1="535.7" y1="588.78" x2="695.5" y2="588.78" stroke="#f0f0f0" stroke-width="0.6"/>
<line x1="535.7" y1="598.71" x2="695.5" y2="598.71" stroke="#f0f0f0" stroke-width="0.6"/>
<line x1="535.7" y1="608.65" x2="695.5" y2="608.65" stroke="#f0f0f0" stroke-width="0.6"/>
<line x1="535.7" y1="618.58" x2="695.5" y2="618.58" stroke="#f0f0f0" stroke-width="0.6"/>
<line x1="535.7" y1="628.51" x2="695.5" y2="628.51" stroke="#f0f0f0" stroke-width="0.6"/>
<line x1="535.7" y1="638.45" x2="695.5" y2="638.45" stroke="#f0f0f0" stroke-width="0.6"/>
<line x1="535.7" y1="648.38" x2="695.5" y2="648.38" stroke="#f0f0f0" stroke-width="0.6"/>
<line x1="535.7" y1="658.32" x2="695.5" y2="658.32" stroke="#f0f0f0" stroke-width="0.6"/>
<line x1="535.7" y1="668.25" x2="695.5" y2="668.25" stroke="#f0f0f0" stroke-width="0.6"/>
<line x1="535.7" y1="678.18" x2="695.5" y2="678.18" stroke="#f0f0f0" stroke-width="0.6"/>
<line x1="535.7" y1="688.12" x2="695.5" y2="688.12" stroke="#f0f0f0" stroke-width="0.6"/>
<line x1="535.7" y1="698.05" x2="695.5" y2="698.05" stroke="#f0f0f0" stroke-width="0.6"/>
<line x1="535.7" y1="707.99" x2="695.5" y2="707.99" stroke="#f0f0f0" stroke-width="0.6"/>
<circle cx="649.5" cy="419.90" r="2.8" fill="#f0003c"/>
<line x1="532.7" y1="419.90" x2="535.7" y2="419.90" stroke="#111" stroke-width="0.9"/>
<text x="530.80" y="422.80" font-size="7.0" text-anchor="end" font-weight="normal" fill="#1a1a1a" >Vancomycin resistance</text>
<circle cx="627.3" cy="429.83" r="5.0" fill="#e00060"/>
<line x1="532.7" y1="429.83" x2="535.7" y2="429.83" stroke="#111" stroke-width="0.9"/>
<text x="530.80" y="432.73" font-size="7.0" text-anchor="end" font-weight="normal" fill="#1a1a1a" >Two−component system</text>
<circle cx="689.2" cy="439.77" r="1.5" fill="#c00096"/>
<line x1="532.7" y1="439.77" x2="535.7" y2="439.77" stroke="#111" stroke-width="0.9"/>
<text x="530.80" y="442.67" font-size="7.0" text-anchor="end" font-weight="normal" fill="#1a1a1a" >Tuberculosis</text>
<circle cx="630.4" cy="449.70" r="3.5" fill="#cf007f"/>
<line x1="532.7" y1="449.70" x2="535.7" y2="449.70" stroke="#111" stroke-width="0.9"/>
<text x="530.80" y="452.60" font-size="7.0" text-anchor="end" font-weight="normal" fill="#1a1a1a" >Quorum sensing</text>
<circle cx="689.2" cy="459.64" r="1.5" fill="#d40076"/>
<line x1="532.7" y1="459.64" x2="535.7" y2="459.64" stroke="#111" stroke-width="0.9"/>
<text x="530.80" y="462.54" font-size="7.0" text-anchor="end" font-weight="normal" fill="#1a1a1a" >PPAR signaling pathway</text>
<circle cx="689.2" cy="469.57" r="1.3" fill="#4b00f3"/>
<line x1="532.7" y1="469.57" x2="535.7" y2="469.57" stroke="#111" stroke-width="0.9"/>
<text x="530.80" y="472.47" font-size="7.0" text-anchor="end" font-weight="normal" fill="#1a1a1a" >Phosphatidylinositol signaling system</text>
<circle cx="660.9" cy="479.50" r="3.0" fill="#f30035"/>
<line x1="532.7" y1="479.50" x2="535.7" y2="479.50" stroke="#111" stroke-width="0.9"/>
<text x="530.80" y="482.40" font-size="7.0" text-anchor="end" font-weight="normal" fill="#1a1a1a" >Peptidoglycan biosynthesis</text>
<circle cx="640.5" cy="489.44" r="2.4" fill="#9f00be"/>
<line x1="532.7" y1="489.44" x2="535.7" y2="489.44" stroke="#111" stroke-width="0.9"/>
<text x="530.80" y="492.34" font-size="7.0" text-anchor="end" font-weight="normal" fill="#1a1a1a" >Pantothenate and CoA biosynthesis</text>
<circle cx="664.2" cy="499.37" r="2.0" fill="#dd0066"/>
<line x1="532.7" y1="499.37" x2="535.7" y2="499.37" stroke="#111" stroke-width="0.9"/>
<text x="530.80" y="502.27" font-size="7.0" text-anchor="end" font-weight="normal" fill="#1a1a1a" >Longevity regulating pathway − worm</text>
<circle cx="689.2" cy="509.31" r="1.3" fill="#7500df"/>
<line x1="532.7" y1="509.31" x2="535.7" y2="509.31" stroke="#111" stroke-width="0.9"/>
<text x="530.80" y="512.21" font-size="7.0" text-anchor="end" font-weight="normal" fill="#1a1a1a" >Lipopolysaccharide biosynthesis</text>
<circle cx="689.2" cy="519.24" r="1.9" fill="#ec0046"/>
<line x1="532.7" y1="519.24" x2="535.7" y2="519.24" stroke="#111" stroke-width="0.9"/>
<text x="530.80" y="522.14" font-size="7.0" text-anchor="end" font-weight="normal" fill="#1a1a1a" >HIF−1 signaling pathway</text>
<circle cx="637.4" cy="529.17" r="2.6" fill="#b800a2"/>
<line x1="532.7" y1="529.17" x2="535.7" y2="529.17" stroke="#111" stroke-width="0.9"/>
<text x="530.80" y="532.07" font-size="7.0" text-anchor="end" font-weight="normal" fill="#1a1a1a" >Glyoxylate and dicarboxylate metabolism</text>
<circle cx="637.4" cy="539.11" r="3.4" fill="#e9004d"/>
<line x1="532.7" y1="539.11" x2="535.7" y2="539.11" stroke="#111" stroke-width="0.9"/>
<text x="530.80" y="542.01" font-size="7.0" text-anchor="end" font-weight="normal" fill="#1a1a1a" >Glycolysis / Gluconeogenesis</text>
<circle cx="630.4" cy="549.04" r="3.3" fill="#b800a2"/>
<line x1="532.7" y1="549.04" x2="535.7" y2="549.04" stroke="#111" stroke-width="0.9"/>
<text x="530.80" y="551.94" font-size="7.0" text-anchor="end" font-weight="normal" fill="#1a1a1a" >Fructose and mannose metabolism</text>
<circle cx="633.1" cy="558.98" r="2.4" fill="#7c00da"/>
<line x1="532.7" y1="558.98" x2="535.7" y2="558.98" stroke="#111" stroke-width="0.9"/>
<text x="530.80" y="561.88" font-size="7.0" text-anchor="end" font-weight="normal" fill="#1a1a1a" >Folate biosynthesis</text>
<circle cx="655.1" cy="568.91" r="3.3" fill="#f80024"/>
<line x1="532.7" y1="568.91" x2="535.7" y2="568.91" stroke="#111" stroke-width="0.9"/>
<text x="530.80" y="571.81" font-size="7.0" text-anchor="end" font-weight="normal" fill="#1a1a1a" >Flagellar assembly</text>
<circle cx="689.2" cy="578.84" r="1.5" fill="#cf007f"/>
<line x1="532.7" y1="578.84" x2="535.7" y2="578.84" stroke="#111" stroke-width="0.9"/>
<text x="530.80" y="581.74" font-size="7.0" text-anchor="end" font-weight="normal" fill="#1a1a1a" >Fat digestion and absorption</text>
<circle cx="644.7" cy="588.78" r="2.6" fill="#e9004d"/>
<line x1="532.7" y1="588.78" x2="535.7" y2="588.78" stroke="#111" stroke-width="0.9"/>
<text x="530.80" y="591.68" font-size="7.0" text-anchor="end" font-weight="normal" fill="#1a1a1a" >DNA replication</text>
<circle cx="689.2" cy="598.71" r="1.5" fill="#e50056"/>
<line x1="532.7" y1="598.71" x2="535.7" y2="598.71" stroke="#111" stroke-width="0.9"/>
<text x="530.80" y="601.61" font-size="7.0" text-anchor="end" font-weight="normal" fill="#1a1a1a" >Diabetic cardiomyopathy</text>
<circle cx="644.7" cy="608.65" r="2.6" fill="#dd0066"/>
<line x1="532.7" y1="608.65" x2="535.7" y2="608.65" stroke="#111" stroke-width="0.9"/>
<text x="530.80" y="611.55" font-size="7.0" text-anchor="end" font-weight="normal" fill="#1a1a1a" >D−Amino acid metabolism</text>
<circle cx="689.2" cy="618.58" r="1.5" fill="#e9004d"/>
<line x1="532.7" y1="618.58" x2="535.7" y2="618.58" stroke="#111" stroke-width="0.9"/>
<text x="530.80" y="621.48" font-size="7.0" text-anchor="end" font-weight="normal" fill="#1a1a1a" >Central carbon metabolism in cancer</text>
<circle cx="653.8" cy="628.51" r="2.8" fill="#f40032"/>
<line x1="532.7" y1="628.51" x2="535.7" y2="628.51" stroke="#111" stroke-width="0.9"/>
<text x="530.80" y="631.41" font-size="7.0" text-anchor="end" font-weight="normal" fill="#1a1a1a" >Cationic antimicrobial peptide (CAMP) re...</text>
<circle cx="628.8" cy="638.45" r="2.8" fill="#7500df"/>
<line x1="532.7" y1="638.45" x2="535.7" y2="638.45" stroke="#111" stroke-width="0.9"/>
<text x="530.80" y="641.35" font-size="7.0" text-anchor="end" font-weight="normal" fill="#1a1a1a" >Butanoate metabolism</text>
<circle cx="643.5" cy="648.38" r="2.6" fill="#e60054"/>
<line x1="532.7" y1="648.38" x2="535.7" y2="648.38" stroke="#111" stroke-width="0.9"/>
<text x="530.80" y="651.28" font-size="7.0" text-anchor="end" font-weight="normal" fill="#1a1a1a" >Biofilm formation − Pseudomonas aeruginо...</text>
<circle cx="636.2" cy="658.32" r="2.5" fill="#a800b4"/>
<line x1="532.7" y1="658.32" x2="535.7" y2="658.32" stroke="#111" stroke-width="0.9"/>
<text x="530.80" y="661.22" font-size="7.0" text-anchor="end" font-weight="normal" fill="#1a1a1a" >Biofilm formation − Escherichia coli</text>
<circle cx="668.7" cy="668.25" r="1.7" fill="#e9004d"/>
<line x1="532.7" y1="668.25" x2="535.7" y2="668.25" stroke="#111" stroke-width="0.9"/>
<text x="530.80" y="671.15" font-size="7.0" text-anchor="end" font-weight="normal" fill="#1a1a1a" >Benzoate degradation</text>
<circle cx="649.5" cy="678.18" r="2.1" fill="#dd0066"/>
<line x1="532.7" y1="678.18" x2="535.7" y2="678.18" stroke="#111" stroke-width="0.9"/>
<text x="530.80" y="681.08" font-size="7.0" text-anchor="end" font-weight="normal" fill="#1a1a1a" >Base excision repair</text>
<circle cx="633.1" cy="688.12" r="2.4" fill="#7c00da"/>
<line x1="532.7" y1="688.12" x2="535.7" y2="688.12" stroke="#111" stroke-width="0.9"/>
<text x="530.80" y="691.02" font-size="7.0" text-anchor="end" font-weight="normal" fill="#1a1a1a" >Bacterial chemotaxis</text>
<circle cx="649.5" cy="698.05" r="2.3" fill="#dd0066"/>
<line x1="532.7" y1="698.05" x2="535.7" y2="698.05" stroke="#111" stroke-width="0.9"/>
<text x="530.80" y="700.95" font-size="7.0" text-anchor="end" font-weight="normal" fill="#1a1a1a" >Arginine biosynthesis</text>
<circle cx="643.5" cy="707.99" r="2.8" fill="#ea004b"/>
<line x1="532.7" y1="707.99" x2="535.7" y2="707.99" stroke="#111" stroke-width="0.9"/>
<text x="530.80" y="710.89" font-size="7.0" text-anchor="end" font-weight="normal" fill="#1a1a1a" >Arginine and proline metabolism</text>
<rect x="535.7" y="414.8" width="159.79999999999995" height="298.2" fill="none" stroke="#000" stroke-width="1.3"/>
<line x1="542.20" y1="713.0" x2="542.20" y2="715.5" stroke="#111" stroke-width="0.9"/>
<text x="542.20" y="721.10" font-size="5.1" text-anchor="middle" font-weight="normal" fill="#2a2a2a" >0.00</text>
<line x1="578.95" y1="713.0" x2="578.95" y2="715.5" stroke="#111" stroke-width="0.9"/>
<text x="578.95" y="721.10" font-size="5.1" text-anchor="middle" font-weight="normal" fill="#2a2a2a" >0.25</text>
<line x1="615.70" y1="713.0" x2="615.70" y2="715.5" stroke="#111" stroke-width="0.9"/>
<text x="615.70" y="721.10" font-size="5.1" text-anchor="middle" font-weight="normal" fill="#2a2a2a" >0.50</text>
<line x1="652.45" y1="713.0" x2="652.45" y2="715.5" stroke="#111" stroke-width="0.9"/>
<text x="652.45" y="721.10" font-size="5.1" text-anchor="middle" font-weight="normal" fill="#2a2a2a" >0.75</text>
<line x1="689.20" y1="713.0" x2="689.20" y2="715.5" stroke="#111" stroke-width="0.9"/>
<text x="689.20" y="721.10" font-size="5.1" text-anchor="middle" font-weight="normal" fill="#2a2a2a" >1.00</text>
<text x="615.70" y="728.70" font-size="6.9" text-anchor="middle" font-weight="normal" fill="#222" >Rich Factor</text>
<text x="708.00" y="509.60" font-size="6.7" text-anchor="start" font-weight="normal" fill="#222" >pvalue</text>
<defs><linearGradient id="gd" x1="0" y1="1" x2="0" y2="0"><stop offset="0.00" stop-color="#ff0000"/><stop offset="0.10" stop-color="#f6002a"/><stop offset="0.20" stop-color="#ed0044"/><stop offset="0.30" stop-color="#e3005b"/><stop offset="0.40" stop-color="#d70072"/><stop offset="0.50" stop-color="#ca0088"/><stop offset="0.60" stop-color="#ba009f"/><stop offset="0.70" stop-color="#a600b7"/><stop offset="0.80" stop-color="#8d00ce"/><stop offset="0.90" stop-color="#6800e7"/><stop offset="1.00" stop-color="#0000ff"/></linearGradient></defs>
<rect x="708.0" y="513.0" width="12.2" height="54.50" fill="url(#gd)"/>
<line x1="708.0" y1="517.6" x2="710.4" y2="517.6" stroke="#fff" stroke-width="0.6"/>
<line x1="717.8" y1="517.6" x2="720.2" y2="517.6" stroke="#fff" stroke-width="0.6"/>
<text x="723.20" y="519.40" font-size="5.0" text-anchor="start" font-weight="normal" fill="#333" >0.28</text>
<line x1="708.0" y1="530.1" x2="710.4" y2="530.1" stroke="#fff" stroke-width="0.6"/>
<line x1="717.8" y1="530.1" x2="720.2" y2="530.1" stroke="#fff" stroke-width="0.6"/>
<text x="723.20" y="531.90" font-size="5.0" text-anchor="start" font-weight="normal" fill="#333" >0.21</text>
<line x1="708.0" y1="542.7" x2="710.4" y2="542.7" stroke="#fff" stroke-width="0.6"/>
<line x1="717.8" y1="542.7" x2="720.2" y2="542.7" stroke="#fff" stroke-width="0.6"/>
<text x="723.20" y="544.50" font-size="5.0" text-anchor="start" font-weight="normal" fill="#333" >0.14</text>
<line x1="708.0" y1="555.3" x2="710.4" y2="555.3" stroke="#fff" stroke-width="0.6"/>
<line x1="717.8" y1="555.3" x2="720.2" y2="555.3" stroke="#fff" stroke-width="0.6"/>
<text x="723.20" y="557.10" font-size="5.0" text-anchor="start" font-weight="normal" fill="#333" >0.07</text>
<line x1="708.0" y1="567.9" x2="710.4" y2="567.9" stroke="#fff" stroke-width="0.6"/>
<line x1="717.8" y1="567.9" x2="720.2" y2="567.9" stroke="#fff" stroke-width="0.6"/>
<text x="723.20" y="569.70" font-size="5.0" text-anchor="start" font-weight="normal" fill="#333" >0.00</text>
<text x="708.00" y="587.70" font-size="6.8" text-anchor="start" font-weight="normal" fill="#222" >Count</text>
<circle cx="713.6" cy="597.0" r="2.8" fill="#000"/>
<text x="723.20" y="598.80" font-size="5.0" text-anchor="start" font-weight="normal" fill="#333" >25</text>
<circle cx="713.6" cy="607.9" r="3.9" fill="#000"/>
<text x="723.20" y="609.70" font-size="5.0" text-anchor="start" font-weight="normal" fill="#333" >50</text>
<circle cx="713.6" cy="618.9" r="4.8" fill="#000"/>
<text x="723.20" y="620.70" font-size="5.0" text-anchor="start" font-weight="normal" fill="#333" >75</text>
<text x="7.50" y="763.80" font-size="25" text-anchor="start" font-weight="normal" fill="#000" >e</text>
<text x="229.80" y="761.80" font-size="13.2" text-anchor="middle" font-weight="normal" fill="#000" >CD413-vs-CD279</text>
<line x1="155.50" y1="769.6" x2="155.50" y2="1068.6" stroke="#f0f0f0" stroke-width="0.6"/>
<line x1="193.12" y1="769.6" x2="193.12" y2="1068.6" stroke="#f0f0f0" stroke-width="0.6"/>
<line x1="230.75" y1="769.6" x2="230.75" y2="1068.6" stroke="#f0f0f0" stroke-width="0.6"/>
<line x1="268.38" y1="769.6" x2="268.38" y2="1068.6" stroke="#f0f0f0" stroke-width="0.6"/>
<line x1="306.00" y1="769.6" x2="306.00" y2="1068.6" stroke="#f0f0f0" stroke-width="0.6"/>
<line x1="174.31" y1="769.6" x2="174.31" y2="1068.6" stroke="#f4f4f4" stroke-width="0.5"/>
<line x1="211.94" y1="769.6" x2="211.94" y2="1068.6" stroke="#f4f4f4" stroke-width="0.5"/>
<line x1="249.56" y1="769.6" x2="249.56" y2="1068.6" stroke="#f4f4f4" stroke-width="0.5"/>
<line x1="287.19" y1="769.6" x2="287.19" y2="1068.6" stroke="#f4f4f4" stroke-width="0.5"/>
<line x1="150.2" y1="775.00" x2="312.3" y2="775.00" stroke="#f0f0f0" stroke-width="0.6"/>
<line x1="150.2" y1="784.94" x2="312.3" y2="784.94" stroke="#f0f0f0" stroke-width="0.6"/>
<line x1="150.2" y1="794.88" x2="312.3" y2="794.88" stroke="#f0f0f0" stroke-width="0.6"/>
<line x1="150.2" y1="804.82" x2="312.3" y2="804.82" stroke="#f0f0f0" stroke-width="0.6"/>
<line x1="150.2" y1="814.76" x2="312.3" y2="814.76" stroke="#f0f0f0" stroke-width="0.6"/>
<line x1="150.2" y1="824.71" x2="312.3" y2="824.71" stroke="#f0f0f0" stroke-width="0.6"/>
<line x1="150.2" y1="834.65" x2="312.3" y2="834.65" stroke="#f0f0f0" stroke-width="0.6"/>
<line x1="150.2" y1="844.59" x2="312.3" y2="844.59" stroke="#f0f0f0" stroke-width="0.6"/>
<line x1="150.2" y1="854.53" x2="312.3" y2="854.53" stroke="#f0f0f0" stroke-width="0.6"/>
<line x1="150.2" y1="864.47" x2="312.3" y2="864.47" stroke="#f0f0f0" stroke-width="0.6"/>
<line x1="150.2" y1="874.41" x2="312.3" y2="874.41" stroke="#f0f0f0" stroke-width="0.6"/>
<line x1="150.2" y1="884.35" x2="312.3" y2="884.35" stroke="#f0f0f0" stroke-width="0.6"/>
<line x1="150.2" y1="894.29" x2="312.3" y2="894.29" stroke="#f0f0f0" stroke-width="0.6"/>
<line x1="150.2" y1="904.23" x2="312.3" y2="904.23" stroke="#f0f0f0" stroke-width="0.6"/>
<line x1="150.2" y1="914.17" x2="312.3" y2="914.17" stroke="#f0f0f0" stroke-width="0.6"/>
<line x1="150.2" y1="924.12" x2="312.3" y2="924.12" stroke="#f0f0f0" stroke-width="0.6"/>
<line x1="150.2" y1="934.06" x2="312.3" y2="934.06" stroke="#f0f0f0" stroke-width="0.6"/>
<line x1="150.2" y1="944.00" x2="312.3" y2="944.00" stroke="#f0f0f0" stroke-width="0.6"/>
<line x1="150.2" y1="953.94" x2="312.3" y2="953.94" stroke="#f0f0f0" stroke-width="0.6"/>
<line x1="150.2" y1="963.88" x2="312.3" y2="963.88" stroke="#f0f0f0" stroke-width="0.6"/>
<line x1="150.2" y1="973.82" x2="312.3" y2="973.82" stroke="#f0f0f0" stroke-width="0.6"/>
<line x1="150.2" y1="983.76" x2="312.3" y2="983.76" stroke="#f0f0f0" stroke-width="0.6"/>
<line x1="150.2" y1="993.70" x2="312.3" y2="993.70" stroke="#f0f0f0" stroke-width="0.6"/>
<line x1="150.2" y1="1003.64" x2="312.3" y2="1003.64" stroke="#f0f0f0" stroke-width="0.6"/>
<line x1="150.2" y1="1013.58" x2="312.3" y2="1013.58" stroke="#f0f0f0" stroke-width="0.6"/>
<line x1="150.2" y1="1023.52" x2="312.3" y2="1023.52" stroke="#f0f0f0" stroke-width="0.6"/>
<line x1="150.2" y1="1033.47" x2="312.3" y2="1033.47" stroke="#f0f0f0" stroke-width="0.6"/>
<line x1="150.2" y1="1043.41" x2="312.3" y2="1043.41" stroke="#f0f0f0" stroke-width="0.6"/>
<line x1="150.2" y1="1053.35" x2="312.3" y2="1053.35" stroke="#f0f0f0" stroke-width="0.6"/>
<line x1="150.2" y1="1063.29" x2="312.3" y2="1063.29" stroke="#f0f0f0" stroke-width="0.6"/>
<circle cx="257" cy="775.00" r="2.3" fill="#6d00e4"/>
<line x1="147.2" y1="775.00" x2="150.2" y2="775.00" stroke="#111" stroke-width="0.9"/>
<text x="146.00" y="777.90" font-size="6.85" text-anchor="end" font-weight="normal" fill="#1a1a1a" >Valine, leucine and isoleucine degradati...</text>
<circle cx="265.9" cy="784.94" r="2.8" fill="#eb0048"/>
<line x1="147.2" y1="784.94" x2="150.2" y2="784.94" stroke="#111" stroke-width="0.9"/>
<text x="146.00" y="787.84" font-size="6.85" text-anchor="end" font-weight="normal" fill="#1a1a1a" >Tyrosine metabolism</text>
<circle cx="285" cy="794.88" r="2.3" fill="#d9006d"/>
<line x1="147.2" y1="794.88" x2="150.2" y2="794.88" stroke="#111" stroke-width="0.9"/>
<text x="146.00" y="797.78" font-size="6.85" text-anchor="end" font-weight="normal" fill="#1a1a1a" >Tropane, piperidine and pyridine alkaloi...</text>
<circle cx="246.4" cy="804.82" r="2.8" fill="#8300d6"/>
<line x1="147.2" y1="804.82" x2="150.2" y2="804.82" stroke="#111" stroke-width="0.9"/>
<text x="146.00" y="807.72" font-size="6.85" text-anchor="end" font-weight="normal" fill="#1a1a1a" >Thiamine metabolism</text>
<circle cx="306" cy="814.76" r="1.8" fill="#c5008f"/>
<line x1="147.2" y1="814.76" x2="150.2" y2="814.76" stroke="#111" stroke-width="0.9"/>
<text x="146.00" y="817.66" font-size="6.85" text-anchor="end" font-weight="normal" fill="#1a1a1a" >Sphingolipid metabolism</text>
<circle cx="257" cy="824.71" r="4.3" fill="#f80024"/>
<line x1="147.2" y1="824.71" x2="150.2" y2="824.71" stroke="#111" stroke-width="0.9"/>
<text x="146.00" y="827.61" font-size="6.85" text-anchor="end" font-weight="normal" fill="#1a1a1a" >Ribosome</text>
<circle cx="240.4" cy="834.65" r="3.8" fill="#8700d3"/>
<line x1="147.2" y1="834.65" x2="150.2" y2="834.65" stroke="#111" stroke-width="0.9"/>
<text x="146.00" y="837.55" font-size="6.85" text-anchor="end" font-weight="normal" fill="#1a1a1a" >Pyruvate metabolism</text>
<circle cx="246.4" cy="844.59" r="2.5" fill="#7500df"/>
<line x1="147.2" y1="844.59" x2="150.2" y2="844.59" stroke="#111" stroke-width="0.9"/>
<text x="146.00" y="847.49" font-size="6.85" text-anchor="end" font-weight="normal" fill="#1a1a1a" >Propanoate metabolism</text>
<circle cx="247.9" cy="854.53" r="5.0" fill="#f80024"/>
<line x1="147.2" y1="854.53" x2="150.2" y2="854.53" stroke="#111" stroke-width="0.9"/>
<text x="146.00" y="857.43" font-size="6.85" text-anchor="end" font-weight="normal" fill="#1a1a1a" >Phosphotransferase system (PTS)</text>
<circle cx="279.2" cy="864.47" r="2.5" fill="#f0003c"/>
<line x1="147.2" y1="864.47" x2="150.2" y2="864.47" stroke="#111" stroke-width="0.9"/>
<text x="146.00" y="867.37" font-size="6.85" text-anchor="end" font-weight="normal" fill="#1a1a1a" >Phosphonate and phosphinate metabolism</text>
<circle cx="291.1" cy="874.41" r="2.5" fill="#f40032"/>
<line x1="147.2" y1="874.41" x2="150.2" y2="874.41" stroke="#111" stroke-width="0.9"/>
<text x="146.00" y="877.31" font-size="6.85" text-anchor="end" font-weight="normal" fill="#1a1a1a" >Phenylalanine metabolism</text>
<circle cx="244.9" cy="884.35" r="2.9" fill="#8700d3"/>
<line x1="147.2" y1="884.35" x2="150.2" y2="884.35" stroke="#111" stroke-width="0.9"/>
<text x="146.00" y="887.25" font-size="6.85" text-anchor="end" font-weight="normal" fill="#1a1a1a" >Peptidoglycan biosynthesis</text>
<circle cx="306" cy="894.29" r="1.8" fill="#d40076"/>
<line x1="147.2" y1="894.29" x2="150.2" y2="894.29" stroke="#111" stroke-width="0.9"/>
<text x="146.00" y="897.19" font-size="6.85" text-anchor="end" font-weight="normal" fill="#1a1a1a" >Parkinson disease</text>
<circle cx="262.6" cy="904.23" r="2.8" fill="#ee0041"/>
<line x1="147.2" y1="904.23" x2="150.2" y2="904.23" stroke="#111" stroke-width="0.9"/>
<text x="146.00" y="907.13" font-size="6.85" text-anchor="end" font-weight="normal" fill="#1a1a1a" >Oxidative phosphorylation</text>
<circle cx="306" cy="914.17" r="1.6" fill="#cb0086"/>
<line x1="147.2" y1="914.17" x2="150.2" y2="914.17" stroke="#111" stroke-width="0.9"/>
<text x="146.00" y="917.07" font-size="6.85" text-anchor="end" font-weight="normal" fill="#1a1a1a" >Other glycan degradation</text>
<circle cx="268.6" cy="924.12" r="2.2" fill="#d40076"/>
<line x1="147.2" y1="924.12" x2="150.2" y2="924.12" stroke="#111" stroke-width="0.9"/>
<text x="146.00" y="927.01" font-size="6.85" text-anchor="end" font-weight="normal" fill="#1a1a1a" >Novobiocin biosynthesis</text>
<circle cx="251" cy="934.06" r="3.2" fill="#e3005b"/>
<line x1="147.2" y1="934.06" x2="150.2" y2="934.06" stroke="#111" stroke-width="0.9"/>
<text x="146.00" y="936.96" font-size="6.85" text-anchor="end" font-weight="normal" fill="#1a1a1a" >Methane metabolism</text>
<circle cx="265.6" cy="944.00" r="2.5" fill="#de0064"/>
<line x1="147.2" y1="944.00" x2="150.2" y2="944.00" stroke="#111" stroke-width="0.9"/>
<text x="146.00" y="946.90" font-size="6.85" text-anchor="end" font-weight="normal" fill="#1a1a1a" >Lysine degradation</text>
<circle cx="306" cy="953.94" r="1.8" fill="#ec0046"/>
<line x1="147.2" y1="953.94" x2="150.2" y2="953.94" stroke="#111" stroke-width="0.9"/>
<text x="146.00" y="956.84" font-size="6.85" text-anchor="end" font-weight="normal" fill="#1a1a1a" >Lipoic acid metabolism</text>
<circle cx="265.6" cy="963.88" r="2.7" fill="#ee0041"/>
<line x1="147.2" y1="963.88" x2="150.2" y2="963.88" stroke="#111" stroke-width="0.9"/>
<text x="146.00" y="966.78" font-size="6.85" text-anchor="end" font-weight="normal" fill="#1a1a1a" >Histidine metabolism</text>
<circle cx="253.7" cy="973.82" r="2.8" fill="#d40076"/>
<line x1="147.2" y1="973.82" x2="150.2" y2="973.82" stroke="#111" stroke-width="0.9"/>
<text x="146.00" y="976.72" font-size="6.85" text-anchor="end" font-weight="normal" fill="#1a1a1a" >Glyoxylate and dicarboxylate metabolism</text>
<circle cx="240.4" cy="983.76" r="3.8" fill="#9500c7"/>
<line x1="147.2" y1="983.76" x2="150.2" y2="983.76" stroke="#111" stroke-width="0.9"/>
<text x="146.00" y="986.66" font-size="6.85" text-anchor="end" font-weight="normal" fill="#1a1a1a" >Glycolysis / Gluconeogenesis</text>
<circle cx="257" cy="993.70" r="3.2" fill="#ee0041"/>
<line x1="147.2" y1="993.70" x2="150.2" y2="993.70" stroke="#111" stroke-width="0.9"/>
<text x="146.00" y="996.60" font-size="6.85" text-anchor="end" font-weight="normal" fill="#1a1a1a" >Glycine, serine and threonine metabolism</text>
<circle cx="257" cy="1003.64" r="3.2" fill="#f0003c"/>
<line x1="147.2" y1="1003.64" x2="150.2" y2="1003.64" stroke="#111" stroke-width="0.9"/>
<text x="146.00" y="1006.54" font-size="6.85" text-anchor="end" font-weight="normal" fill="#1a1a1a" >Galactose metabolism</text>
<circle cx="249.7" cy="1013.58" r="3.8" fill="#f20037"/>
<line x1="147.2" y1="1013.58" x2="150.2" y2="1013.58" stroke="#111" stroke-width="0.9"/>
<text x="146.00" y="1016.48" font-size="6.85" text-anchor="end" font-weight="normal" fill="#1a1a1a" >Fructose and mannose metabolism</text>
<circle cx="252.5" cy="1023.52" r="3.6" fill="#f40032"/>
<line x1="147.2" y1="1023.52" x2="150.2" y2="1023.52" stroke="#111" stroke-width="0.9"/>
<text x="146.00" y="1026.42" font-size="6.85" text-anchor="end" font-weight="normal" fill="#1a1a1a" >Carbon fixation pathways in prokaryotes</text>
<circle cx="265.9" cy="1033.47" r="3.8" fill="#f6002a"/>
<line x1="147.2" y1="1033.47" x2="150.2" y2="1033.47" stroke="#111" stroke-width="0.9"/>
<text x="146.00" y="1036.37" font-size="6.85" text-anchor="end" font-weight="normal" fill="#1a1a1a" >Butanoate metabolism</text>
<circle cx="257" cy="1043.41" r="1.8" fill="#4b00f3"/>
<line x1="147.2" y1="1043.41" x2="150.2" y2="1043.41" stroke="#111" stroke-width="0.9"/>
<text x="146.00" y="1046.31" font-size="6.85" text-anchor="end" font-weight="normal" fill="#1a1a1a" >Biotin metabolism</text>
<circle cx="276.2" cy="1053.35" r="2.5" fill="#f20037"/>
<line x1="147.2" y1="1053.35" x2="150.2" y2="1053.35" stroke="#111" stroke-width="0.9"/>
<text x="146.00" y="1056.25" font-size="6.85" text-anchor="end" font-weight="normal" fill="#1a1a1a" >Arginine biosynthesis</text>
<circle cx="249.2" cy="1063.29" r="2.8" fill="#bd009b"/>
<line x1="147.2" y1="1063.29" x2="150.2" y2="1063.29" stroke="#111" stroke-width="0.9"/>
<text x="146.00" y="1066.19" font-size="6.85" text-anchor="end" font-weight="normal" fill="#1a1a1a" >Arginine and proline metabolism</text>
<rect x="150.2" y="769.6" width="162.10000000000002" height="298.9999999999999" fill="none" stroke="#000" stroke-width="1.3"/>
<line x1="155.50" y1="1068.6" x2="155.50" y2="1071.1" stroke="#111" stroke-width="0.9"/>
<text x="155.50" y="1076.20" font-size="5.1" text-anchor="middle" font-weight="normal" fill="#2a2a2a" >0.00</text>
<line x1="193.12" y1="1068.6" x2="193.12" y2="1071.1" stroke="#111" stroke-width="0.9"/>
<text x="193.12" y="1076.20" font-size="5.1" text-anchor="middle" font-weight="normal" fill="#2a2a2a" >0.25</text>
<line x1="230.75" y1="1068.6" x2="230.75" y2="1071.1" stroke="#111" stroke-width="0.9"/>
<text x="230.75" y="1076.20" font-size="5.1" text-anchor="middle" font-weight="normal" fill="#2a2a2a" >0.50</text>
<line x1="268.38" y1="1068.6" x2="268.38" y2="1071.1" stroke="#111" stroke-width="0.9"/>
<text x="268.38" y="1076.20" font-size="5.1" text-anchor="middle" font-weight="normal" fill="#2a2a2a" >0.75</text>
<line x1="306.00" y1="1068.6" x2="306.00" y2="1071.1" stroke="#111" stroke-width="0.9"/>
<text x="306.00" y="1076.20" font-size="5.1" text-anchor="middle" font-weight="normal" fill="#2a2a2a" >1.00</text>
<text x="230.75" y="1083.70" font-size="6.9" text-anchor="middle" font-weight="normal" fill="#222" >Rich Factor</text>
<text x="324.80" y="864.20" font-size="6.7" text-anchor="start" font-weight="normal" fill="#222" >pvalue</text>
<defs><linearGradient id="ge" x1="0" y1="1" x2="0" y2="0"><stop offset="0.00" stop-color="#ff0000"/><stop offset="0.10" stop-color="#f6002a"/><stop offset="0.20" stop-color="#ed0044"/><stop offset="0.30" stop-color="#e3005b"/><stop offset="0.40" stop-color="#d70072"/><stop offset="0.50" stop-color="#ca0088"/><stop offset="0.60" stop-color="#ba009f"/><stop offset="0.70" stop-color="#a600b7"/><stop offset="0.80" stop-color="#8d00ce"/><stop offset="0.90" stop-color="#6800e7"/><stop offset="1.00" stop-color="#0000ff"/></linearGradient></defs>
<rect x="324.8" y="868.0" width="12.2" height="54.50" fill="url(#ge)"/>
<line x1="324.8" y1="873.0" x2="327.2" y2="873.0" stroke="#fff" stroke-width="0.6"/>
<line x1="334.6" y1="873.0" x2="337.0" y2="873.0" stroke="#fff" stroke-width="0.6"/>
<text x="340.00" y="874.80" font-size="5.0" text-anchor="start" font-weight="normal" fill="#333" >0.24</text>
<line x1="324.8" y1="885.5" x2="327.2" y2="885.5" stroke="#fff" stroke-width="0.6"/>
<line x1="334.6" y1="885.5" x2="337.0" y2="885.5" stroke="#fff" stroke-width="0.6"/>
<text x="340.00" y="887.30" font-size="5.0" text-anchor="start" font-weight="normal" fill="#333" >0.18</text>
<line x1="324.8" y1="898.0" x2="327.2" y2="898.0" stroke="#fff" stroke-width="0.6"/>
<line x1="334.6" y1="898.0" x2="337.0" y2="898.0" stroke="#fff" stroke-width="0.6"/>
<text x="340.00" y="899.80" font-size="5.0" text-anchor="start" font-weight="normal" fill="#333" >0.12</text>
<line x1="324.8" y1="910.4" x2="327.2" y2="910.4" stroke="#fff" stroke-width="0.6"/>
<line x1="334.6" y1="910.4" x2="337.0" y2="910.4" stroke="#fff" stroke-width="0.6"/>
<text x="340.00" y="912.20" font-size="5.0" text-anchor="start" font-weight="normal" fill="#333" >0.06</text>
<line x1="324.8" y1="922.9" x2="327.2" y2="922.9" stroke="#fff" stroke-width="0.6"/>
<line x1="334.6" y1="922.9" x2="337.0" y2="922.9" stroke="#fff" stroke-width="0.6"/>
<text x="340.00" y="924.70" font-size="5.0" text-anchor="start" font-weight="normal" fill="#333" >0.00</text>
<text x="324.80" y="942.70" font-size="6.8" text-anchor="start" font-weight="normal" fill="#222" >Count</text>
<circle cx="330.40000000000003" cy="951.9" r="2.8" fill="#000"/>
<text x="340.00" y="953.70" font-size="5.0" text-anchor="start" font-weight="normal" fill="#333" >16</text>
<circle cx="330.40000000000003" cy="962.9" r="3.9" fill="#000"/>
<text x="340.00" y="964.70" font-size="5.0" text-anchor="start" font-weight="normal" fill="#333" >32</text>
<circle cx="330.40000000000003" cy="973.9" r="4.8" fill="#000"/>
<text x="340.00" y="975.70" font-size="5.0" text-anchor="start" font-weight="normal" fill="#333" >48</text>
<text x="401.50" y="767.50" font-size="24" text-anchor="start" font-weight="normal" fill="#000" >f</text>
<line x1="451.05" y1="966.7" x2="451.05" y2="968.4" stroke="#000" stroke-width="2"/>
<line x1="446.1" y1="966.7" x2="456.2" y2="966.7" stroke="#000" stroke-width="2"/>
<rect x="441.40" y="969.50" width="19.30" height="24.00" fill="#000000" stroke="#000" stroke-width="2.2"/>
<line x1="481.65" y1="944.2" x2="481.65" y2="947.0" stroke="#000" stroke-width="2"/>
<line x1="477.3" y1="944.2" x2="486.5" y2="944.2" stroke="#000" stroke-width="2"/>
<rect x="472.60" y="948.10" width="18.10" height="45.40" fill="#a2a1a5" stroke="#000" stroke-width="2.2"/>
<line x1="512.10" y1="937.0" x2="512.10" y2="941.0" stroke="#000" stroke-width="2"/>
<line x1="508.0" y1="937.0" x2="517.0" y2="937.0" stroke="#000" stroke-width="2"/>
<rect x="503.00" y="942.10" width="18.20" height="51.40" fill="#7f7f7f" stroke="#000" stroke-width="2.2"/>
<line x1="543.00" y1="827.6" x2="543.00" y2="838.0" stroke="#000" stroke-width="2"/>
<line x1="538.4" y1="827.6" x2="548.0" y2="827.6" stroke="#000" stroke-width="2"/>
<rect x="534.10" y="839.10" width="17.80" height="154.40" fill="#d6d6d6" stroke="#000" stroke-width="2.2"/>
<line x1="430.0" y1="791.9" x2="430.0" y2="994.5" stroke="#000" stroke-width="2.1"/>
<line x1="429.0" y1="993.5" x2="564.8" y2="993.5" stroke="#000" stroke-width="2.1"/>
<line x1="421.2" y1="792.9" x2="430.0" y2="792.9" stroke="#000" stroke-width="2"/>
<text x="0" y="0" font-size="16" font-weight="bold" text-anchor="end" transform="translate(419.40,798.63) scale(0.86,1)">8</text>
<line x1="421.2" y1="843.7" x2="430.0" y2="843.7" stroke="#000" stroke-width="2"/>
<text x="0" y="0" font-size="16" font-weight="bold" text-anchor="end" transform="translate(419.40,849.43) scale(0.86,1)">6</text>
<line x1="421.2" y1="893.7" x2="430.0" y2="893.7" stroke="#000" stroke-width="2"/>
<text x="0" y="0" font-size="16" font-weight="bold" text-anchor="end" transform="translate(419.40,899.43) scale(0.86,1)">4</text>
<line x1="421.2" y1="943.5" x2="430.0" y2="943.5" stroke="#000" stroke-width="2"/>
<text x="0" y="0" font-size="16" font-weight="bold" text-anchor="end" transform="translate(419.40,949.23) scale(0.86,1)">2</text>
<line x1="421.2" y1="993.5" x2="430.0" y2="993.5" stroke="#000" stroke-width="2"/>
<text x="0" y="0" font-size="16" font-weight="bold" text-anchor="end" transform="translate(419.40,999.23) scale(0.86,1)">0</text>
<line x1="451.05" y1="993.5" x2="451.05" y2="1001.8" stroke="#000" stroke-width="2"/>
<text x="0" y="0" font-size="14.8" font-weight="bold" text-anchor="end" transform="translate(455.55,1014.50) rotate(-45)">R20291</text>
<line x1="481.65" y1="993.5" x2="481.65" y2="1001.8" stroke="#000" stroke-width="2"/>
<text x="0" y="0" font-size="14.8" font-weight="bold" text-anchor="end" transform="translate(486.15,1014.50) rotate(-45)">CD21062</text>
<line x1="512.10" y1="993.5" x2="512.10" y2="1001.8" stroke="#000" stroke-width="2"/>
<text x="0" y="0" font-size="14.8" font-weight="bold" text-anchor="end" transform="translate(516.60,1014.50) rotate(-45)">CD279</text>
<line x1="543.00" y1="993.5" x2="543.00" y2="1001.8" stroke="#000" stroke-width="2"/>
<text x="0" y="0" font-size="14.8" font-weight="bold" text-anchor="end" transform="translate(547.50,1014.50) rotate(-45)">CD413</text>
<text x="450.90" y="970.10" font-size="24" text-anchor="middle" font-weight="normal" fill="#000" >*</text>
<text x="542.70" y="830.60" font-size="24" text-anchor="middle" font-weight="normal" fill="#000" >*</text>
<text x="495.60" y="914.80" font-size="13.3" text-anchor="middle" font-weight="normal" fill="#000" >ns</text>
<line x1="479.8" y1="919.5" x2="509.9" y2="919.5" stroke="#000" stroke-width="1.3"/>
<text x="0" y="0" font-size="10.63" font-weight="bold" text-anchor="middle" transform="translate(391.3,893.0) rotate(-90)" fill="#111">Relative <tspan font-style="italic">nisR</tspan> expression normalized to <tspan font-style="italic">rpoA</tspan></text>
<text x="493.60" y="1075.70" font-size="16.2" text-anchor="middle" font-weight="bold" fill="#000" >Strains</text>
<text x="605.10" y="768.00" font-size="24" text-anchor="start" font-weight="normal" fill="#000" >g</text>
<line x1="663.35" y1="923.0" x2="663.35" y2="938.0" stroke="#000" stroke-width="2"/>
<line x1="658.2" y1="923.0" x2="668.4" y2="923.0" stroke="#000" stroke-width="2"/>
<rect x="653.90" y="939.10" width="18.90" height="53.70" fill="#000000" stroke="#000" stroke-width="2.2"/>
<line x1="693.90" y1="914.0" x2="693.90" y2="915.8" stroke="#000" stroke-width="2"/>
<line x1="688.5" y1="914.0" x2="699.0" y2="914.0" stroke="#000" stroke-width="2"/>
<rect x="684.70" y="916.90" width="18.40" height="75.90" fill="#a2a1a5" stroke="#000" stroke-width="2.2"/>
<line x1="725.10" y1="914.0" x2="725.10" y2="915.8" stroke="#000" stroke-width="2"/>
<line x1="720.0" y1="914.0" x2="730.0" y2="914.0" stroke="#000" stroke-width="2"/>
<rect x="716.30" y="916.90" width="17.60" height="75.90" fill="#7f7f7f" stroke="#000" stroke-width="2.2"/>
<line x1="756.35" y1="805.5" x2="756.35" y2="812.2" stroke="#000" stroke-width="2"/>
<line x1="752.2" y1="805.5" x2="760.5" y2="805.5" stroke="#000" stroke-width="2"/>
<rect x="747.80" y="813.30" width="17.10" height="179.50" fill="#d6d6d6" stroke="#000" stroke-width="2.2"/>
<line x1="643.6" y1="791.1" x2="643.6" y2="993.8" stroke="#000" stroke-width="2.1"/>
<line x1="642.6" y1="992.8" x2="776.5" y2="992.8" stroke="#000" stroke-width="2.1"/>
<line x1="634.8000000000001" y1="792.1" x2="643.6" y2="792.1" stroke="#000" stroke-width="2"/>
<text x="0" y="0" font-size="16" font-weight="bold" text-anchor="end" transform="translate(633.00,797.83) scale(0.86,1)">3</text>
<line x1="634.8000000000001" y1="859.3" x2="643.6" y2="859.3" stroke="#000" stroke-width="2"/>
<text x="0" y="0" font-size="16" font-weight="bold" text-anchor="end" transform="translate(633.00,865.03) scale(0.86,1)">2</text>
<line x1="634.8000000000001" y1="926.2" x2="643.6" y2="926.2" stroke="#000" stroke-width="2"/>
<text x="0" y="0" font-size="16" font-weight="bold" text-anchor="end" transform="translate(633.00,931.93) scale(0.86,1)">1</text>
<line x1="634.8000000000001" y1="992.8" x2="643.6" y2="992.8" stroke="#000" stroke-width="2"/>
<text x="0" y="0" font-size="16" font-weight="bold" text-anchor="end" transform="translate(633.00,998.53) scale(0.86,1)">0</text>
<line x1="663.35" y1="992.8" x2="663.35" y2="1001.0999999999999" stroke="#000" stroke-width="2"/>
<text x="0" y="0" font-size="14.8" font-weight="bold" text-anchor="end" transform="translate(667.85,1013.80) rotate(-45)">R20291</text>
<line x1="693.90" y1="992.8" x2="693.90" y2="1001.0999999999999" stroke="#000" stroke-width="2"/>
<text x="0" y="0" font-size="14.8" font-weight="bold" text-anchor="end" transform="translate(698.40,1013.80) rotate(-45)">CD21062</text>
<line x1="725.10" y1="992.8" x2="725.10" y2="1001.0999999999999" stroke="#000" stroke-width="2"/>
<text x="0" y="0" font-size="14.8" font-weight="bold" text-anchor="end" transform="translate(729.60,1013.80) rotate(-45)">CD279</text>
<line x1="756.35" y1="992.8" x2="756.35" y2="1001.0999999999999" stroke="#000" stroke-width="2"/>
<text x="0" y="0" font-size="14.8" font-weight="bold" text-anchor="end" transform="translate(760.85,1013.80) rotate(-45)">CD413</text>
<text x="663.80" y="926.10" font-size="24" text-anchor="middle" font-weight="normal" fill="#000" >*</text>
<text x="755.90" y="806.10" font-size="24" text-anchor="middle" font-weight="normal" fill="#000" >*</text>
<text x="707.90" y="891.50" font-size="13.3" text-anchor="middle" font-weight="normal" fill="#000" >ns</text>
<line x1="694.0" y1="896.4" x2="724.8" y2="896.4" stroke="#000" stroke-width="1.3"/>
<text x="0" y="0" font-size="10.63" font-weight="bold" text-anchor="middle" transform="translate(599.3,881.9) rotate(-90)" fill="#111">Relative <tspan font-style="italic">RS16530</tspan> expression normalized to <tspan font-style="italic">rpoA</tspan></text>
<text x="705.50" y="1075.70" font-size="16.2" text-anchor="middle" font-weight="bold" fill="#000" >Strains</text>
</svg></body></html>
